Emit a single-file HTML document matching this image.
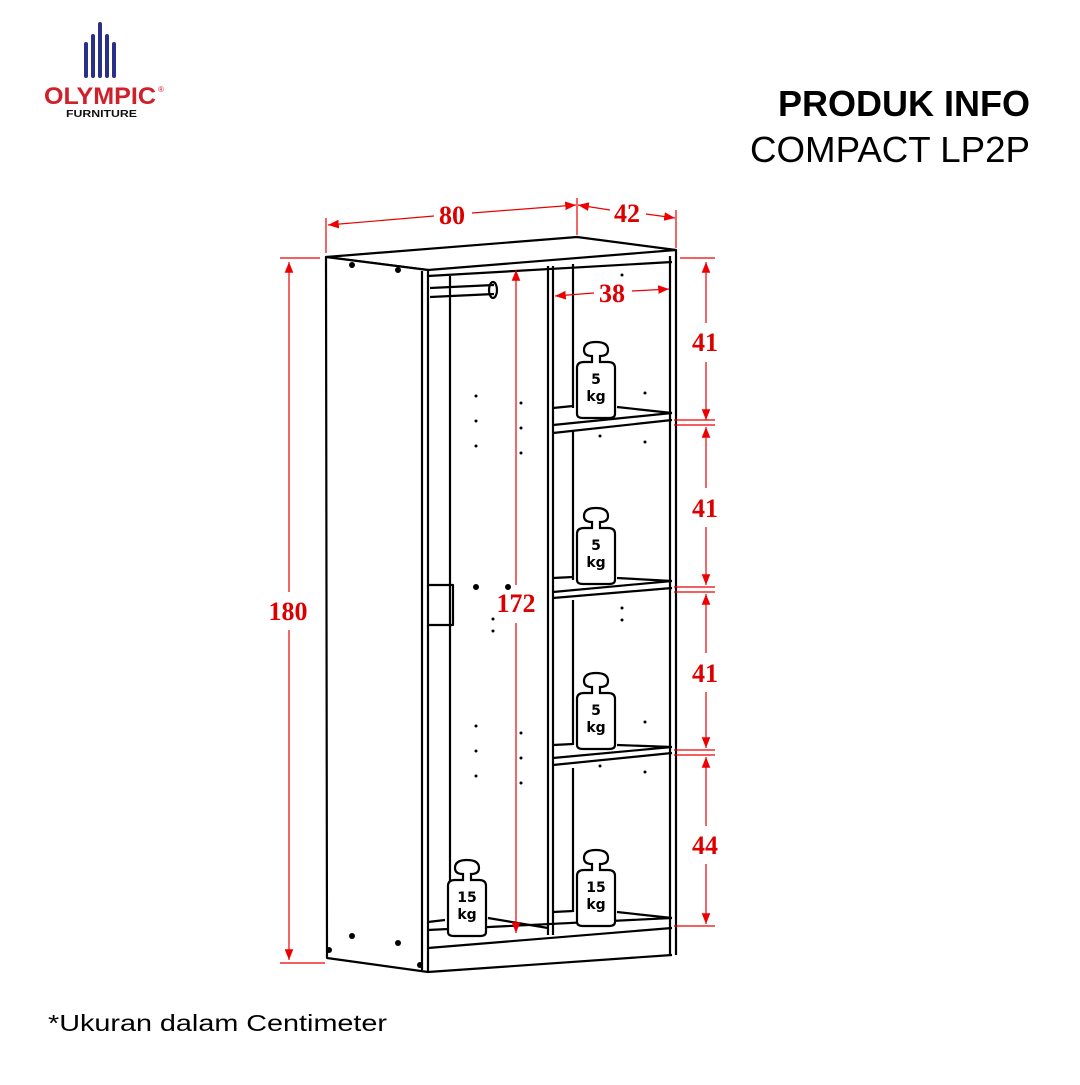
<!DOCTYPE html>
<html><head><meta charset="utf-8"><style>
body{margin:0;background:#fff;width:1080px;height:1080px;overflow:hidden;font-family:"Liberation Sans",sans-serif}
</style></head><body>
<svg width="1080" height="1080" viewBox="0 0 1080 1080" xmlns="http://www.w3.org/2000/svg">
<defs>
<g id="w5">
<path d="M-12,0 q0,-8 12,-8 q12,0 12,8 q0,6 -8,6 v6 h8 q7,0 7,6 v46 q0,4 -6,4 h-26 q-6,0 -6,-4 v-46 q0,-6 7,-6 h8 v-6 q-8,0 -8,-6z" fill="#fff" stroke="#000" stroke-width="2.2"/>
</g>
<marker id="ar" viewBox="0 0 10 10" refX="10" refY="5" markerWidth="9" markerHeight="9" orient="auto-start-reverse"><path d="M0,1 L10,5 L0,9z" fill="#e00"/></marker>
</defs>
<!-- logo -->
<g fill="#2a2f8a">
<rect x="98" y="22" width="4" height="56" rx="2"/>
<rect x="91" y="34" width="4" height="44" rx="2"/>
<rect x="105" y="34" width="4" height="44" rx="2"/>
<rect x="84" y="42" width="4" height="36" rx="2"/>
<rect x="112" y="42" width="4" height="36" rx="2"/>
</g>
<text x="44" y="104" font-size="24" font-weight="bold" fill="#d0202a" textLength="112" lengthAdjust="spacingAndGlyphs">OLYMPIC</text>
<text x="158" y="92" font-size="8" fill="#d0202a">®</text>
<text x="66" y="117" font-size="10" font-weight="bold" fill="#111" textLength="71" lengthAdjust="spacingAndGlyphs">FURNITURE</text>
<text x="778" y="116" font-size="36" font-weight="bold" fill="#000" textLength="252" lengthAdjust="spacingAndGlyphs">PRODUK INFO</text>
<text x="750" y="162" font-size="36" fill="#000" textLength="280" lengthAdjust="spacingAndGlyphs">COMPACT LP2P</text>
<text x="48" y="1031" font-size="23" fill="#000" textLength="339" lengthAdjust="spacingAndGlyphs">*Ukuran dalam Centimeter</text>

<g fill="none" stroke="#000" stroke-width="2.2" stroke-linejoin="round">
<path d="M326,257 L577,237 L676,250 L428,270 Z" fill="#fff"/>
<path d="M428,276 L672,262"/>
<path d="M326,257 L428,270 L428,972 L327,958 Z" fill="#fff"/>
<path d="M422,271 V970"/>
<path d="M676,250 V955 M670,256 V955"/>
<path d="M428,948 L672,928 M428,972 L672,955"/>
<path d="M450,276 V925 M430,288 L494,285 M430,297 L494,294"/>
<ellipse cx="493" cy="290" rx="4" ry="8"/>
<path d="M428,585 h25 v40 h-25"/>
<path d="M548,266 V935 M553,266 V935"/>
<path d="M573,264 V408 M573,430 V580 M573,600 V745 M573,768 V912"/>
<path d="M553,408 L573,406 M553,433 L672,420 M553,425 L672,413 M617,407 L672,413"/>
<path d="M553,578 L573,577 M553,598 L672,588 M553,592 L672,581 M617,578 L672,581"/>
<path d="M553,745 L573,744 M553,765 L672,753 M553,758 L672,747 M617,745 L672,747"/>
<path d="M553,912 L573,911 M428,930 L672,918 M617,912 L672,918"/>
<path d="M428,922 L445,920 M488,918 L548,928"/>
</g>
<g fill="#000">
<circle cx="352" cy="265" r="3"/><circle cx="398" cy="270" r="3"/>
<circle cx="352" cy="936" r="3"/><circle cx="398" cy="943" r="3"/><circle cx="329" cy="950" r="3"/><circle cx="420" cy="965" r="3"/>
<circle cx="476" cy="587" r="3"/><circle cx="508" cy="587" r="3"/>
<circle cx="476" cy="396" r="1.5"/><circle cx="476" cy="421" r="1.5"/><circle cx="476" cy="446" r="1.5"/>
<circle cx="521" cy="403" r="1.5"/><circle cx="521" cy="428" r="1.5"/><circle cx="521" cy="453" r="1.5"/>
<circle cx="476" cy="726" r="1.5"/><circle cx="476" cy="751" r="1.5"/><circle cx="476" cy="776" r="1.5"/>
<circle cx="521" cy="733" r="1.5"/><circle cx="521" cy="758" r="1.5"/><circle cx="521" cy="783" r="1.5"/>
<circle cx="493" cy="619" r="1.5"/><circle cx="493" cy="631" r="1.5"/>
<circle cx="622" cy="275" r="1.5"/><circle cx="645" cy="393" r="1.5"/><circle cx="600" cy="436" r="1.5"/><circle cx="645" cy="442" r="1.5"/>
<circle cx="622" cy="608" r="1.5"/><circle cx="622" cy="620" r="1.5"/>
<circle cx="645" cy="722" r="1.5"/><circle cx="600" cy="766" r="1.5"/><circle cx="645" cy="772" r="1.5"/>
</g>
<g font-family="DejaVu Sans,sans-serif" font-weight="bold" font-size="14" text-anchor="middle">
<g transform="translate(596,350)"><use href="#w5"/><text y="34">5</text><text y="51">kg</text></g>
<g transform="translate(596,516)"><use href="#w5"/><text y="34">5</text><text y="51">kg</text></g>
<g transform="translate(596,681)"><use href="#w5"/><text y="34">5</text><text y="51">kg</text></g>
<g transform="translate(596,858)"><use href="#w5"/><text y="34">15</text><text y="51">kg</text></g>
<g transform="translate(467,868)"><use href="#w5"/><text y="34">15</text><text y="51">kg</text></g>
</g>
<g stroke="#e00" stroke-width="1.2" fill="none">
<path d="M326,253 V218 M577,235 V198 M676,248 V210"/>
<path d="M280,258 H320 M280,963 H325"/>
<path d="M680,258 H715 M674,420 H715 M674,425 H715 M674,587 H715 M674,592 H715 M674,750 H715 M674,755 H715 M674,926 H715"/>
<path d="M328,225 L434,216" marker-start="url(#ar)"/>
<path d="M472,213 L576,205" marker-end="url(#ar)"/>
<path d="M578,205 L610,210" marker-start="url(#ar)"/><path d="M646,214 L675,218" marker-end="url(#ar)"/>
<path d="M289,262 V592" marker-start="url(#ar)"/><path d="M289,630 V960" marker-end="url(#ar)"/>
<path d="M516,270 V585" marker-start="url(#ar)"/><path d="M516,623 V933" marker-end="url(#ar)"/>
<path d="M555,296 L594,293" marker-start="url(#ar)"/><path d="M632,291 L669,289" marker-end="url(#ar)"/>
<path d="M706,262 V323" marker-start="url(#ar)"/><path d="M706,362 V420" marker-end="url(#ar)"/>
<path d="M706,427 V488" marker-start="url(#ar)"/><path d="M706,527 V585" marker-end="url(#ar)"/>
<path d="M706,594 V653" marker-start="url(#ar)"/><path d="M706,692 V748" marker-end="url(#ar)"/>
<path d="M706,757 V826" marker-start="url(#ar)"/><path d="M706,864 V924" marker-end="url(#ar)"/>
</g>
<g fill="#d00" font-family="Liberation Serif,serif" font-weight="bold" font-size="26" text-anchor="middle">
<text x="452" y="224">80</text>
<text x="627" y="222">42</text>
<text x="288" y="620">180</text>
<text x="516" y="612">172</text>
<text x="612" y="302">38</text>
<text x="705" y="351">41</text>
<text x="705" y="517">41</text>
<text x="705" y="682">41</text>
<text x="705" y="854">44</text>
</g>
</svg>
</body></html>
